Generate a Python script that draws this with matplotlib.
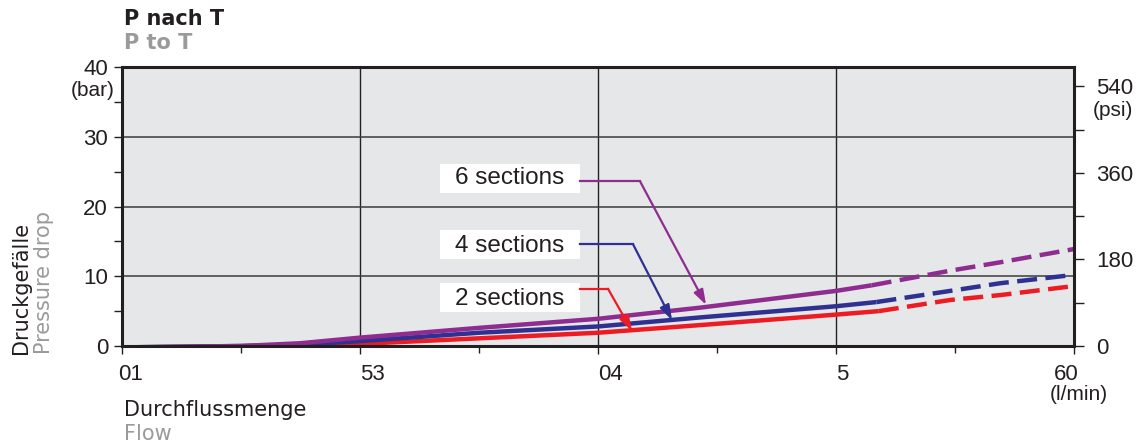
import matplotlib
matplotlib.use('Agg')
import matplotlib.pyplot as plt
import matplotlib.transforms as mtrans
from matplotlib.patches import Rectangle
from matplotlib.ticker import MultipleLocator

# flow axis: positions of the five grid lines and their printed labels
flow_ticks = [0, 1, 2, 3, 4]
flow_labels = ['01', '53', '04', '5', '60']

# 6 sections (purple)
x6 = [0, 0.5, 0.75, 1.0, 1.5, 2.0, 2.43, 3.0, 3.15]
y6 = [-0.2, 0.0, 0.4, 1.2, 2.6, 3.9, 5.5, 7.9, 8.7]
x6d = [3.15, 3.48, 3.69, 4.0]
y6d = [8.7, 10.8, 12.0, 13.9]
# 4 sections (blue)
x4 = [0, 0.5, 0.75, 1.0, 1.5, 2.0, 2.43, 3.0, 3.17]
y4 = [-0.2, 0.0, 0.2, 0.7, 1.9, 2.8, 4.1, 5.7, 6.3]
x4d = [3.17, 3.48, 3.69, 4.0]
y4d = [6.3, 7.9, 9.0, 10.2]
# 2 sections (red)
x2 = [0, 0.5, 0.75, 1.0, 1.5, 2.0, 2.43, 3.0, 3.18]
y2 = [-0.3, -0.2, 0.0, 0.3, 1.1, 1.9, 3.0, 4.5, 5.0]
x2d = [3.18, 3.48, 3.69, 4.0]
y2d = [5.0, 6.6, 7.3, 8.6]

bar_ticks = [0, 10, 20, 30, 40]
psi_ticks = [0, 180, 360, 540]
PSI_PER_BAR = 14.5038

purple = '#8e2c8f'
blue = '#2e3192'
red = '#ed1c24'
dark = '#231f20'
grey = '#9a9a9a'
tickfont = 'Liberation Sans'
labfont = 'DejaVu Sans'

W, H = 1146, 448
fig = plt.figure(figsize=(W / 100, H / 100), dpi=100)
ax = fig.add_axes([122 / W, 1 - 346 / H, (1074 - 122) / W, (346 - 67) / H])
ax.set_facecolor('#e6e7e8')
ax.set_xlim(0, 4)
ax.set_ylim(0, 40)

for v in [1, 2, 3]:
    ax.axvline(v, color='#222222', lw=1.0, zorder=1)
for v in [10, 20, 30]:
    ax.axhline(v, color='#3c3c3c', lw=1.1, zorder=1)

lw = 3.2
ax.plot(x2, y2, color=red, lw=lw, solid_capstyle='butt', zorder=3)
ax.plot(x4, y4, color=blue, lw=lw, solid_capstyle='butt', zorder=4)
ax.plot(x6, y6, color=purple, lw=lw, solid_capstyle='butt', zorder=5)
ax.plot(x2d, y2d, color=red, lw=lw, dashes=(4.5, 1.9), dash_capstyle='butt', zorder=3)
ax.plot(x4d, y4d, color=blue, lw=lw, dashes=(4.5, 1.9), dash_capstyle='butt', zorder=4)
ax.plot(x6d, y6d, color=purple, lw=lw, dashes=(4.5, 1.9), dash_capstyle='butt', zorder=5)

for s in ax.spines.values():
    s.set_linewidth(2.2)
    s.set_color(dark)
    s.set_zorder(10)

ax.set_xticks(flow_ticks)
ax.set_xticklabels(flow_labels, fontfamily=tickfont, fontsize=16, color=dark)
ax.xaxis.set_minor_locator(MultipleLocator(0.5))
ax.set_yticks(bar_ticks)
ax.set_yticklabels([str(t) for t in bar_ticks], fontfamily=tickfont, fontsize=16, color=dark)
ax.yaxis.set_minor_locator(MultipleLocator(5))
ax.tick_params(axis='both', which='both', direction='out', width=1, color=dark)
ax.tick_params(axis='x', which='major', length=6, pad=7)
ax.tick_params(axis='x', which='minor', length=5)
ax.tick_params(axis='y', which='major', length=6, pad=4)
ax.tick_params(axis='y', which='minor', length=6)

# x labels sit to the right of their grid line, the last one is centred
for i, lab in enumerate(ax.get_xticklabels()):
    if i < 4:
        lab.set_ha('left')
        lab.set_transform(lab.get_transform() + mtrans.ScaledTranslation(-0.04 if i == 0 else 0.0, 0, fig.dpi_scale_trans))
    else:
        lab.set_transform(lab.get_transform() + mtrans.ScaledTranslation(-0.08, 0, fig.dpi_scale_trans))

ax2 = ax.twinx()
ax2.set_ylim(0, 40 * PSI_PER_BAR)
ax2.set_yticks(psi_ticks)
ax2.set_yticklabels([str(t) for t in psi_ticks], fontfamily=tickfont, fontsize=16, color=dark)
ax2.yaxis.set_minor_locator(MultipleLocator(90))
ax2.tick_params(axis='y', which='both', direction='out', length=7, width=1, color=dark, pad=9)
for s in ax2.spines.values():
    s.set_visible(False)

# unit labels
fig.text(115 / W, 1 - 90 / H, '(bar)', ha='right', va='center', fontfamily=tickfont, fontsize=15, color=dark)
fig.text(1113 / W, 1 - 110 / H, '(psi)', ha='center', va='center', fontfamily=tickfont, fontsize=15, color=dark)
fig.text(1079 / W, 1 - 394 / H, '(l/min)', ha='center', va='center', fontfamily=tickfont, fontsize=15, color=dark)

# titles
fig.text(124 / W, 1 - 19 / H, 'P nach T', ha='left', va='center', fontfamily=labfont, fontsize=15, fontweight='bold', color=dark)
fig.text(124 / W, 1 - 43 / H, 'P to T', ha='left', va='center', fontfamily=labfont, fontsize=15, fontweight='bold', color=grey)
fig.text(124 / W, 1 - 410 / H, 'Durchflussmenge', ha='left', va='center', fontfamily=labfont, fontsize=15, color=dark)
fig.text(124 / W, 1 - 434 / H, 'Flow', ha='left', va='center', fontfamily=labfont, fontsize=15, color=grey)
fig.text(21 / W, 1 - 354 / H, 'Druckgefälle', rotation=90, ha='center', va='bottom', fontfamily=labfont, fontsize=15, color=dark)
fig.text(44 / W, 1 - 354 / H, 'Pressure drop', rotation=90, ha='center', va='bottom', fontfamily=labfont, fontsize=15, color=grey)

# callouts: white label box, horizontal leader, arrow to the curve
box_x0, box_x1, text_x = 1.336, 1.924, 1.63
callouts = [
    ('6 sections', purple, (21.94, 26.09), 23.2, (2.176, 23.65), (2.454, 5.9)),
    ('4 sections', blue, (12.47, 16.63), 13.48, (2.147, 14.6), (2.311, 3.7)),
    ('2 sections', red, (4.87, 9.03), 5.88, (2.042, 8.2), (2.143, 2.15)),
]
for txt, col, (yb0, yb1), ybase, kink, tip in callouts:
    ax.add_patch(Rectangle((box_x0, yb0), box_x1 - box_x0, yb1 - yb0, fc='white', ec='none', zorder=6))
    ax.text(text_x, ybase, txt, ha='center', va='baseline', fontfamily=tickfont, fontsize=17.5,
            color=dark, zorder=7)
    ax.plot([box_x1, kink[0]], [kink[1], kink[1]], color=col, lw=1.6, zorder=6)
    ax.annotate('', xy=tip, xytext=kink, zorder=6,
                arrowprops=dict(arrowstyle='-|>,head_length=0.9,head_width=0.3', color=col, lw=1.6,
                                shrinkA=0, shrinkB=0))

fig.savefig('out.png', dpi=100)
